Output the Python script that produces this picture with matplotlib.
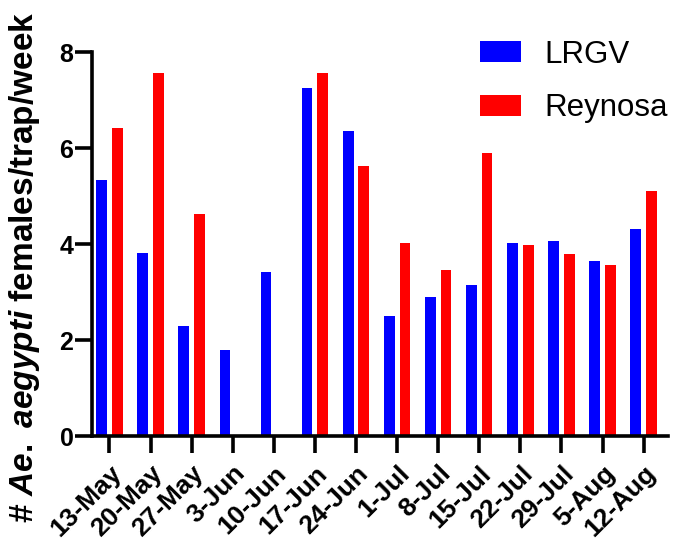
import matplotlib
matplotlib.use("Agg")
import matplotlib.pyplot as plt
import numpy as np

plt.rcParams['font.family'] = 'Liberation Sans'
plt.rcParams['mathtext.fontset'] = 'custom'
plt.rcParams['mathtext.it'] = 'Liberation Sans:bold:italic'
plt.rcParams['mathtext.rm'] = 'Liberation Sans:bold'

weeks = ["13-May", "20-May", "27-May", "3-Jun", "10-Jun", "17-Jun", "24-Jun",
         "1-Jul", "8-Jul", "15-Jul", "22-Jul", "29-Jul", "5-Aug", "12-Aug"]
lrgv = [5.34, 3.81, 2.30, 1.79, 3.42, 7.25, 6.36,
        2.51, 2.89, 3.15, 4.03, 4.07, 3.65, 4.32]
reynosa = [6.42, 7.57, 4.62, 0.0, 0.0, 7.57, 5.64,
           4.03, 3.47, 5.90, 3.99, 3.79, 3.56, 5.11]

fig = plt.figure(figsize=(6.73, 5.5), dpi=100)
ax = fig.add_axes([0.137, 0.207, 0.856, 0.698])

x = np.arange(len(weeks))
width = 0.26
offset = 0.19
ax.bar(x - offset, lrgv, width, color='#0000ff', lw=0, label='LRGV')
ax.bar(x + offset, reynosa, width, color='#ff0000', lw=0, label='Reynosa')

ax.set_xlim(-0.42, 13.6)
ax.set_ylim(0, 8)
ax.set_yticks([0, 2, 4, 6, 8])
ax.set_xticks(x)
ax.set_xticklabels(weeks, rotation=45, ha='right', rotation_mode='anchor',
                   fontsize=19, fontweight='bold')
for lab in ax.get_yticklabels():
    lab.set_fontsize(18)
    lab.set_fontweight('bold')

for side in ['top', 'right']:
    ax.spines[side].set_visible(False)
for side in ['left', 'bottom']:
    ax.spines[side].set_linewidth(2.6)
ax.tick_params(axis='both', width=2.6, length=12, direction='out')
ax.tick_params(axis='y', pad=1.5)
ax.tick_params(axis='x', pad=6)

# y label drawn on the figure so it can sit a little lower than the axes centre
fig.text(25 / 673, 1 - 267 / 550, r"# $\mathit{Ae.\ aegypti}$ females/trap/week",
         rotation=90, ha='center', va='center', fontsize=24, fontweight='bold')

ax.legend(loc='upper right', bbox_to_anchor=(1.021, 1.065), frameon=False,
          fontsize=22.5, handlelength=1.3, handleheight=0.65,
          handletextpad=0.75, labelspacing=0.75, borderaxespad=0)

fig.savefig('out.png', dpi=100)
